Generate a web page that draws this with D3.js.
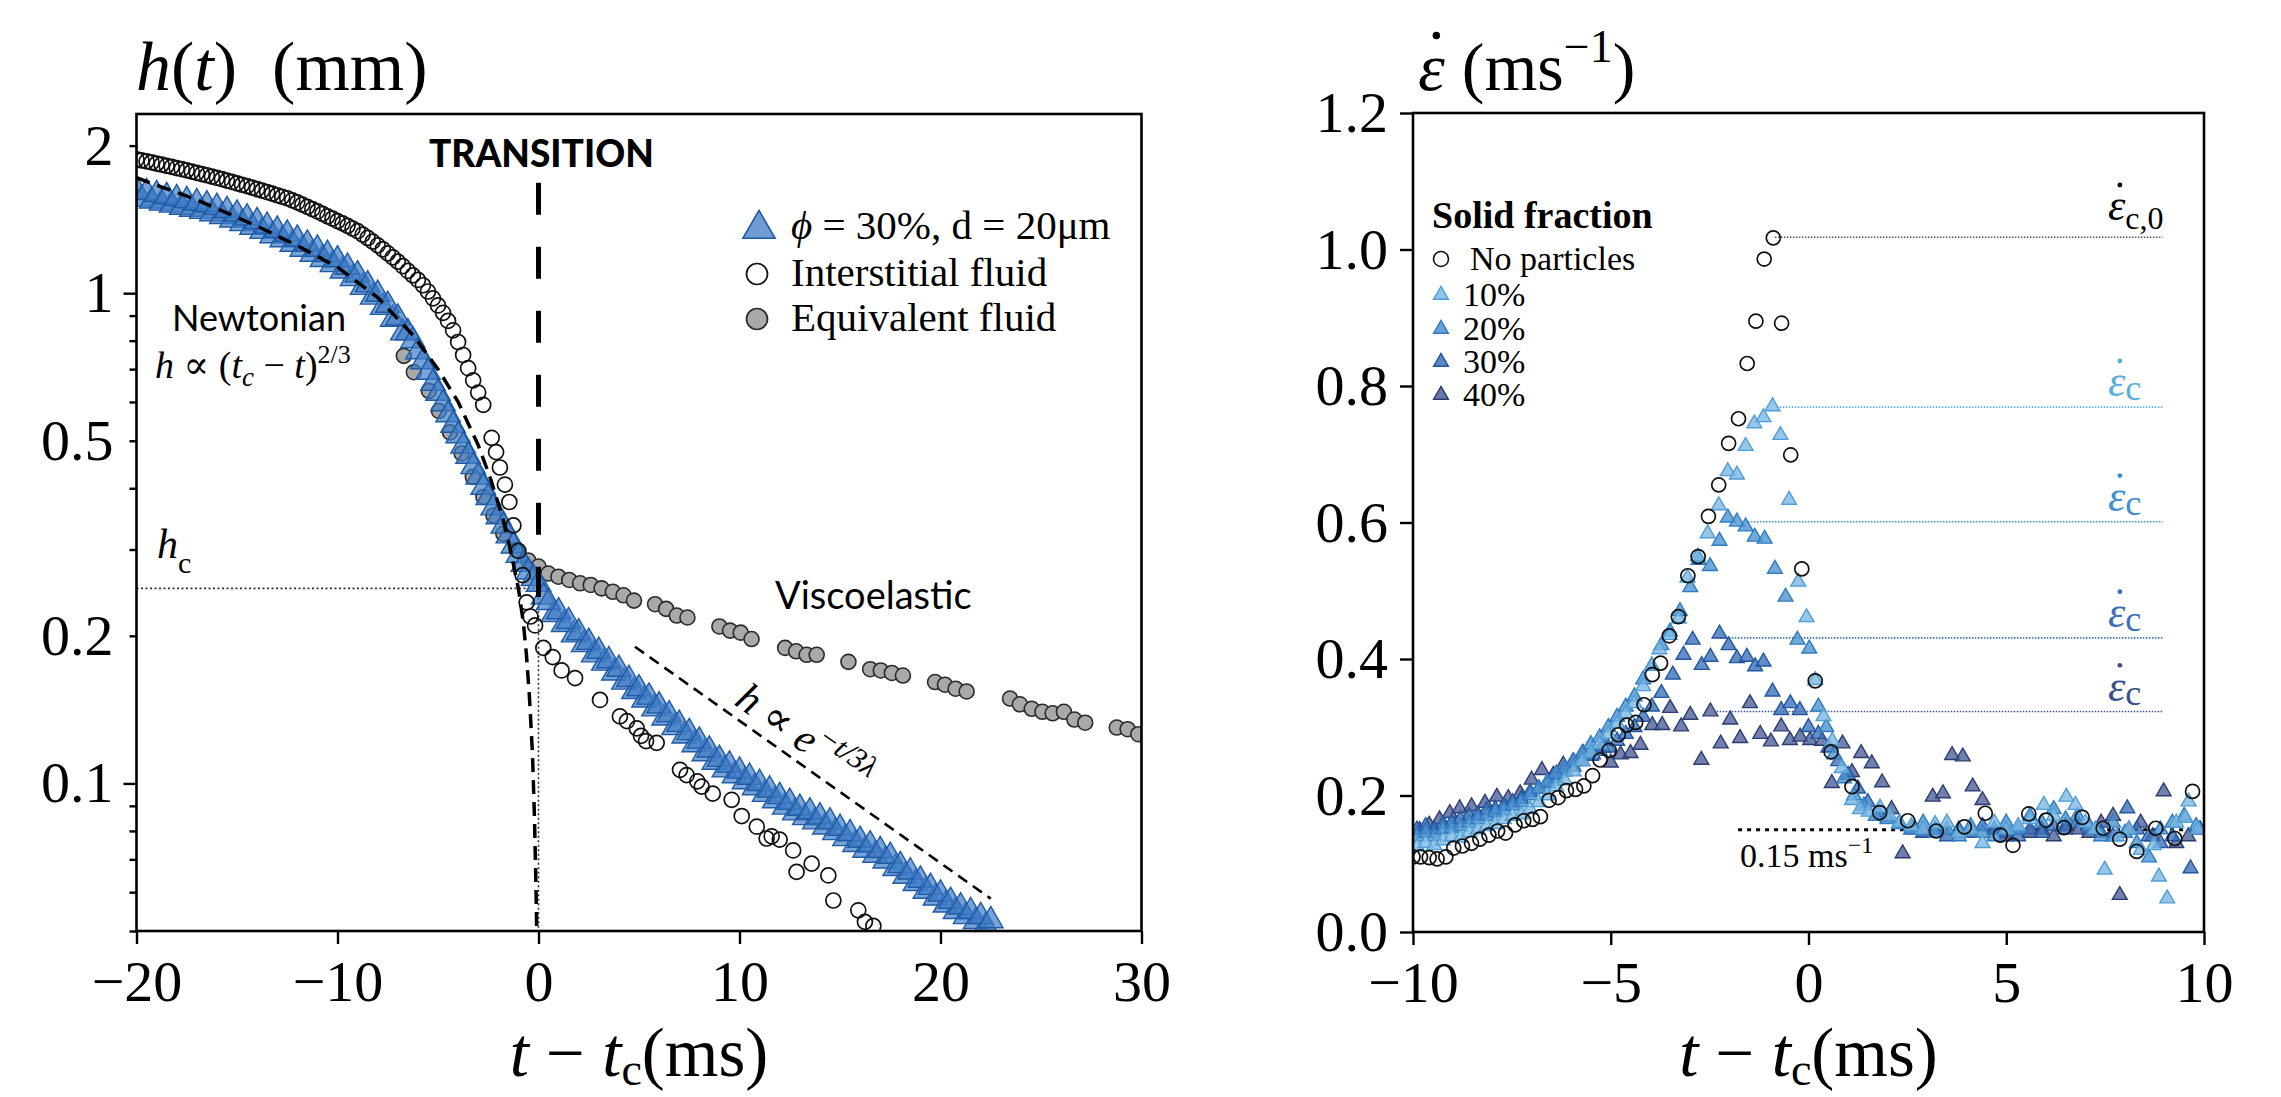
<!DOCTYPE html>
<html><head><meta charset="utf-8">
<script src="https://cdn.jsdelivr.net/npm/d3@7"></script>
<style>
body{margin:0;background:#fff;}
text{white-space:pre;}
</style></head><body>
<script>
// ---------------- DATA: left panel h(t) ----------------
const leftXTicks=[-20,-10,0,10,20,30];
const leftYLabels=[0.1,0.2,0.5,1,2];
const leftYMinor=[0.05,0.06,0.07,0.08,0.09,0.2,0.3,0.4,0.5,0.6,0.7,0.8,0.9,2];
const leftYMajor=[0.1,1];
const hc=0.25;
// phi = 30%, d = 20 um (triangles), run 1
const phi30=[[-20,1.62],[-19.5,1.605],[-19,1.59],[-18.5,1.575],[-18,1.56],[-17.5,1.545],[-17,1.53],[-16.5,1.515],[-16,1.497],[-15.5,1.475],[-15,1.45],[-14.5,1.425],[-14,1.40],[-13.5,1.37],[-13,1.345],[-12.5,1.32],[-12,1.29],[-11.5,1.26],[-11,1.23],[-10.5,1.20],[-10,1.17],[-9.5,1.13],[-9,1.09],[-8.5,1.04],[-8,0.995],[-7.5,0.945],[-7,0.89],[-6.5,0.83],[-6.25,0.80],[-6,0.76],[-5.75,0.725],[-5.5,0.69],[-5.25,0.655],[-5,0.625],[-4.75,0.595],[-4.5,0.565],[-4.25,0.538],[-4,0.512],[-3.75,0.488],[-3.5,0.465],[-3.25,0.443],[-3,0.422],[-2.75,0.402],[-2.5,0.383],[-2.25,0.365],[-2,0.35],[-1.75,0.335],[-1.5,0.32],[-1.25,0.305],[-1,0.292],[-0.75,0.28],[-0.5,0.27],[-0.25,0.262],[0,0.255],
[0.25,0.240],[0.5,0.234],[1,0.224],[1.5,0.214],[2,0.203],[2.5,0.194],[3,0.186],[3.5,0.178],[4,0.171],[4.5,0.163],[5,0.156],[5.5,0.150],[6,0.144],[6.5,0.138],[7,0.132],[7.5,0.127],[8,0.122],[8.5,0.117],[9,0.112],[9.5,0.109],[10,0.106],[10.5,0.103],[11,0.100],[11.5,0.097],[12,0.094],[12.5,0.0915],[13,0.089],[13.5,0.0875],[14,0.0855],[14.5,0.0835],[15,0.081],[15.5,0.079],[16,0.0766],[16.5,0.075],[17,0.073],[17.5,0.071],[18,0.068],[18.5,0.066],[19,0.0635],[19.5,0.0614],[20,0.0595],[20.5,0.0575],[21,0.056],[21.5,0.0548],[22,0.0535],[22.5,0.0525]];
// phi = 30%, run 2 (lower edge of the band)
const phi30Run2=[[-19.75,1.556],[-19.25,1.542],[-18.75,1.527],[-18.25,1.513],[-17.75,1.498],[-17.25,1.484],[-16.75,1.469],[-16.25,1.453],[-15.75,1.434],[-15.25,1.411],[-14.75,1.387],[-14.25,1.363],[-13.75,1.337],[-13.25,1.310],[-12.75,1.286],[-12.25,1.259],[-11.75,1.230],[-11.25,1.201],[-10.75,1.172],[-10.25,1.144],[-9.75,1.110],[-9.25,1.071],[-8.75,1.028],[-8.25,0.982],[-7.75,0.936],[-7.25,0.885],[-6.75,0.830],
[0.75,0.221],[1.25,0.211],[1.75,0.201],[2.25,0.192],[2.75,0.183],[3.25,0.176],[3.75,0.168],[4.25,0.161],[4.75,0.154],[5.25,0.148],[5.75,0.142],[6.25,0.136],[6.75,0.130],[7.25,0.125],[7.75,0.120],[8.25,0.115],[8.75,0.1105],[9.25,0.1066],[9.75,0.1037],[10.25,0.1008],[10.75,0.098],[11.25,0.095],[11.75,0.0922],[12.25,0.0895],[12.75,0.0871],[13.25,0.0852],[13.75,0.0835],[14.25,0.0815],[14.75,0.0794],[15.25,0.0772],[15.75,0.0751],[16.25,0.0731],[16.75,0.0714],[17.25,0.0695],[17.75,0.0671],[18.25,0.0647],[18.75,0.0625],[19.25,0.0603],[19.75,0.0584],[20.25,0.0565],[20.75,0.0548],[21.25,0.0535],[21.75,0.0523],[22.25,0.0511]];
// interstitial fluid (open circles)
const interstitial=[[-20,1.875],[-19.75,1.866],[-19.5,1.857],[-19.25,1.848],[-19,1.838],[-18.75,1.829],[-18.5,1.819],[-18.25,1.810],[-18,1.800],[-17.75,1.790],[-17.5,1.780],[-17.25,1.770],[-17,1.760],[-16.75,1.750],[-16.5,1.740],[-16.25,1.729],[-16,1.718],[-15.75,1.708],[-15.5,1.697],[-15.25,1.686],[-15,1.675],[-14.75,1.664],[-14.5,1.653],[-14.25,1.642],[-14,1.630],[-13.75,1.619],[-13.5,1.607],[-13.25,1.596],[-13,1.584],[-12.75,1.573],[-12.5,1.562],[-12.25,1.547],[-12,1.532],[-11.75,1.516],[-11.5,1.500],[-11.25,1.484],[-11,1.468],[-10.75,1.452],[-10.5,1.435],[-10.25,1.419],[-10,1.403],[-9.75,1.388],[-9.5,1.372],[-9.25,1.355],[-9,1.338],[-8.75,1.317],[-8.5,1.296],[-8.25,1.274],[-8,1.252],[-7.75,1.229],[-7.5,1.206],[-7.25,1.183],[-7,1.160],[-6.75,1.135],[-6.5,1.110],[-6.25,1.087],[-6,1.064],[-5.75,1.038],[-5.5,1.008],[-5.25,0.976],[-5,0.944],[-4.75,0.912],[-4.5,0.878],[-4.25,0.840],[-4,0.795],[-3.75,0.748],[-3.5,0.703],[-3.25,0.664],[-3,0.627],[-2.75,0.592],
[-2.33,0.507],[-2.11,0.474],[-1.92,0.441],[-1.67,0.407],[-1.45,0.375],[-1.25,0.336],[-1.0,0.298],[-0.79,0.266],[-0.59,0.234],[-0.4,0.219],[-0.17,0.21],[0.24,0.189],[0.71,0.181],[1.15,0.170],[1.82,0.164],[3.06,0.148],[4.05,0.137],[4.4,0.134],[4.89,0.1295],[5.1,0.125],[5.35,0.122],[5.88,0.121],[7.04,0.1066],[7.37,0.104],[7.9,0.101],[8.12,0.0985],[8.67,0.0953],[9.61,0.0926],[10.11,0.0858],[10.86,0.0816],[11.35,0.0772],[11.6,0.078],[12.0,0.0768],[12.67,0.073],[12.84,0.066],[13.59,0.0686],[14.42,0.0649],[14.67,0.0577],[15.91,0.0551],[16.24,0.0522],[16.66,0.0512]];
// equivalent fluid (grey circles)
const equivalent=[[-6.7,0.745],[-6.2,0.69],[-5.45,0.632],[-4.95,0.575],[-4.4,0.52],[-3.82,0.471],[-3.27,0.422],[-2.74,0.384],[-2.24,0.352],[-1.75,0.323],[-1.1,0.299],[-0.51,0.285],[0,0.277],[0.49,0.268],[0.99,0.264],[1.53,0.260],[2.07,0.256],[2.6,0.254],[3.14,0.250],[3.7,0.246],[4.23,0.242],[4.75,0.236],[5.8,0.232],[6.35,0.227],[6.88,0.220],[7.41,0.218],[9.0,0.209],[9.53,0.205],[10.06,0.203],[10.6,0.197],[12.27,0.189],[12.82,0.186],[13.34,0.183],[13.84,0.183],[15.42,0.177],[16.5,0.171],[17.03,0.170],[17.58,0.168],[18.13,0.166],[19.73,0.161],[20.22,0.159],[20.75,0.156],[21.3,0.154],[23.46,0.149],[23.95,0.145],[24.54,0.142],[25.07,0.140],[25.58,0.139],[26.14,0.140],[26.66,0.135],[27.2,0.133],[28.77,0.130],[29.31,0.129],[29.84,0.126]];
// Newtonian fit h ~ (tc-t)^(2/3)
const newtonFit=[[-20,1.72],[-17,1.55],[-14,1.37],[-12,1.25],[-10,1.13],[-8,0.98],[-6.23,0.82],[-5,0.70],[-4,0.60],[-3,0.49],[-2.4,0.42],[-1.8,0.35],[-1.4,0.30],[-1.0,0.25],[-0.75,0.212],[-0.6,0.183],[-0.45,0.15],[-0.3,0.115],[-0.2,0.085],[-0.12,0.06],[-0.09,0.05]];
// viscoelastic exponential fit
const expFit=[[4.8,0.19],[22.5,0.0582]];
const transitionLine=[[0,1.68],[0,0.24]];

// ---------------- DATA: right panel strain rate ----------------
const rightXTicks=[-10,-5,0,5,10];
const rightYTicks=[0,0.2,0.4,0.6,0.8,1.0,1.2];
const noParticles=[[-10.0,0.110],[-9.81,0.110],[-9.59,0.109],[-9.39,0.107],[-9.17,0.110],[-8.97,0.123],[-8.75,0.126],[-8.52,0.130],[-8.31,0.136],[-8.08,0.142],[-7.86,0.148],[-7.66,0.145],[-7.42,0.157],[-7.2,0.163],[-6.98,0.165],[-6.78,0.169],[-6.56,0.193],[-6.33,0.197],[-6.12,0.207],[-5.89,0.209],[-5.68,0.214],[-5.46,0.229],[-5.27,0.252],[-5.04,0.266],[-4.81,0.289],[-4.6,0.303],[-4.37,0.307],[-4.16,0.333],[-3.95,0.377],[-3.74,0.394],[-3.52,0.434],[-3.29,0.462],[-3.05,0.522],[-2.79,0.550],[-2.53,0.609],[-2.27,0.655],[-2.02,0.716],[-1.77,0.752],[-1.55,0.833],[-1.33,0.895],[-1.12,0.986],[-0.89,1.017],[-0.68,0.892],[-0.45,0.699],[-0.17,0.532],[0.17,0.368],[0.57,0.264],[1.10,0.213],[1.80,0.175],[2.51,0.163],[3.23,0.148],[3.94,0.154],[4.47,0.174],[4.85,0.142],[5.17,0.127],[5.57,0.173],[6.01,0.164],[6.46,0.153],[6.92,0.168],[7.45,0.152],[7.87,0.136],[8.30,0.118],[8.78,0.152],[9.26,0.137],[9.71,0.206]];
const frac10=[[-9.9,0.125],[-9.68,0.13],[-9.46,0.127],[-9.24,0.134],[-9.02,0.14],[-8.8,0.138],[-8.58,0.146],[-8.36,0.15],[-8.14,0.155],[-7.92,0.158],[-7.7,0.165],[-7.48,0.17],[-7.26,0.172],[-7.04,0.18],[-6.82,0.19],[-6.6,0.2],[-6.38,0.213],[-6.16,0.222],[-5.94,0.235],[-5.72,0.25],[-5.5,0.262],[-5.28,0.275],[-5.06,0.29],[-4.84,0.305],[-4.62,0.32],[-4.4,0.335],[-4.18,0.36],[-3.96,0.39],[-3.77,0.414],[-3.51,0.435],[-3.28,0.459],[-3.06,0.519],[-2.8,0.55],[-2.55,0.584],[-2.27,0.625],[-2.04,0.675],[-1.81,0.67],[-1.59,0.712],[-1.37,0.745],[-1.14,0.754],[-0.91,0.77],[-0.71,0.728],[-0.49,0.633],[-0.26,0.513],[-0.05,0.461],[0.17,0.369],[0.38,0.316],[0.6,0.28],[0.84,0.24],[1.1,0.193],[1.3,0.18],[1.52,0.176],[1.81,0.182],[2.05,0.17],[2.3,0.16],[2.6,0.155],[2.9,0.15],[3.2,0.158],[3.5,0.16],[3.8,0.145],[4.1,0.15],[4.4,0.13],[4.7,0.16],[5.0,0.15],[5.3,0.155],[5.6,0.165],[5.95,0.186],[6.2,0.17],[6.52,0.198],[6.75,0.186],[7.0,0.16],[7.25,0.15],[7.49,0.091],[7.8,0.14],[8.1,0.15],[8.4,0.12],[8.73,0.127],[8.86,0.081],[9.07,0.049],[9.3,0.16],[9.53,0.167],[9.61,0.191],[9.85,0.15]];
const frac20=[[-9.9,0.14],[-9.68,0.145],[-9.46,0.14],[-9.24,0.15],[-9.02,0.152],[-8.8,0.155],[-8.58,0.16],[-8.36,0.165],[-8.14,0.17],[-7.92,0.175],[-7.7,0.178],[-7.48,0.185],[-7.26,0.19],[-7.04,0.2],[-6.82,0.21],[-6.6,0.22],[-6.38,0.232],[-6.16,0.24],[-5.94,0.25],[-5.72,0.262],[-5.5,0.275],[-5.28,0.285],[-5.06,0.3],[-4.84,0.315],[-4.62,0.33],[-4.4,0.345],[-4.18,0.37],[-3.96,0.39],[-3.72,0.42],[-3.5,0.44],[-3.25,0.47],[-2.99,0.505],[-2.78,0.545],[-2.49,0.536],[-2.25,0.573],[-2.04,0.607],[-1.81,0.601],[-1.59,0.594],[-1.36,0.579],[-1.11,0.576],[-0.85,0.532],[-0.58,0.491],[-0.28,0.428],[0.02,0.415],[0.25,0.33],[0.45,0.3],[0.65,0.26],[0.9,0.225],[1.15,0.2],[1.4,0.185],[1.7,0.17],[2.0,0.165],[2.3,0.158],[2.6,0.15],[2.9,0.16],[3.2,0.145],[3.5,0.15],[3.8,0.14],[4.1,0.155],[4.4,0.145],[4.7,0.14],[5.0,0.16],[5.3,0.15],[5.6,0.17],[5.9,0.16],[6.2,0.18],[6.5,0.165],[6.8,0.17],[7.1,0.155],[7.4,0.14],[7.7,0.16],[8.0,0.145],[8.3,0.13],[8.61,0.109],[8.9,0.15],[9.2,0.16],[9.5,0.17],[9.8,0.155]];
const frac30=[[-9.9,0.15],[-9.68,0.155],[-9.46,0.15],[-9.24,0.158],[-9.02,0.16],[-8.8,0.165],[-8.58,0.17],[-8.36,0.172],[-8.14,0.178],[-7.92,0.18],[-7.7,0.185],[-7.48,0.19],[-7.26,0.195],[-7.04,0.205],[-6.82,0.21],[-6.6,0.218],[-6.38,0.225],[-6.16,0.235],[-5.94,0.242],[-5.72,0.25],[-5.5,0.258],[-5.28,0.265],[-5.06,0.27],[-4.84,0.28],[-4.62,0.29],[-4.4,0.3],[-4.18,0.315],[-3.96,0.33],[-3.72,0.35],[-3.43,0.377],[-3.16,0.406],[-2.93,0.428],[-2.7,0.391],[-2.48,0.403],[-2.25,0.437],[-2.02,0.42],[-1.81,0.401],[-1.56,0.403],[-1.35,0.389],[-1.14,0.396],[-0.91,0.352],[-0.69,0.325],[-0.46,0.335],[-0.22,0.325],[0.0,0.3],[0.25,0.29],[0.5,0.27],[0.75,0.25],[1.0,0.23],[1.25,0.21],[1.5,0.19],[1.75,0.175],[2.0,0.168],[2.3,0.16],[2.6,0.15],[2.9,0.145],[3.2,0.15],[3.5,0.14],[3.8,0.15],[4.1,0.145],[4.4,0.155],[4.7,0.15],[5.0,0.145],[5.3,0.14],[5.6,0.15],[5.9,0.145],[6.2,0.155],[6.5,0.15],[6.8,0.16],[7.1,0.15],[7.4,0.145],[7.7,0.14],[8.06,0.181],[8.3,0.15],[8.6,0.14],[8.9,0.13],[9.2,0.14],[9.66,0.093],[9.9,0.15]];
const frac40=[[-9.83,0.149],[-9.59,0.157],[-9.33,0.165],[-9.07,0.174],[-8.82,0.181],[-8.52,0.184],[-8.18,0.189],[-7.88,0.198],[-7.59,0.196],[-7.29,0.203],[-7.0,0.223],[-6.74,0.237],[-6.45,0.23],[-6.2,0.245],[-5.95,0.25],[-5.7,0.262],[-5.45,0.26],[-5.2,0.27],[-5.0,0.248],[-4.75,0.26],[-4.5,0.262],[-4.25,0.274],[-3.95,0.303],[-3.7,0.303],[-3.5,0.328],[-3.22,0.301],[-2.99,0.318],[-2.71,0.252],[-2.48,0.323],[-2.22,0.276],[-1.98,0.311],[-1.73,0.284],[-1.48,0.335],[-1.22,0.29],[-0.95,0.279],[-0.69,0.301],[-0.47,0.281],[-0.21,0.286],[0.04,0.281],[0.34,0.28],[0.59,0.218],[0.86,0.276],[1.1,0.234],[1.33,0.262],[1.6,0.247],[1.86,0.219],[2.1,0.18],[2.38,0.115],[2.7,0.15],[2.9,0.145],[3.14,0.198],[3.4,0.203],[3.63,0.259],[3.9,0.257],[4.15,0.213],[4.4,0.193],[4.7,0.15],[5.0,0.14],[5.3,0.15],[5.6,0.145],[5.9,0.15],[6.2,0.14],[6.5,0.155],[6.8,0.15],[7.1,0.145],[7.4,0.16],[7.7,0.17],[7.87,0.054],[8.1,0.15],[8.4,0.16],[8.7,0.14],[8.98,0.206],[9.3,0.13],[9.6,0.14],[9.9,0.15]];
const epsC0=1.018, epsC0Start=-0.85;
const epsCValues=[0.769,0.601,0.431,0.323];
const epsCStart=[-0.8,-1.53,-2.24,-2.32];
const epsLineEnd=8.95;
const plateau=0.15, plateauStart=-1.78;
const fracLabels=["10%","20%","30%","40%"];

// ---------------- STYLES ----------------
const SERIF="'Liberation Serif','DejaVu Serif',serif";
const SANS="Lato,'Open Sans',sans-serif";
const fracFill=["#7db8e2","#4d93d0","#3c72ba","#4f6099"];
const fracStroke=["#4e9fd6","#2f7cc2","#22569f","#2c3c72"];
const epsColors=["#5aaee0","#3d8fd0","#3a6fb8","#3b4f8c"];

const W=2281,H=1097;
const svg=d3.select("body").append("svg").attr("width",W).attr("height",H).attr("font-family",SERIF);
svg.append("rect").attr("width",W).attr("height",H).attr("fill","#fff");
const defs=svg.append("defs");

// ============ LEFT PANEL ============
const L={x0:136.5,x1:1141.5,y0:114,y1:931};
const xL=d3.scaleLinear().domain([-20,30]).range([L.x0,L.x1]);
const yL=d3.scaleLog().domain([0.05,2.32]).range([L.y1,L.y0]);
defs.append("clipPath").attr("id","clipL").append("rect").attr("x",L.x0).attr("y",L.y0).attr("width",L.x1-L.x0).attr("height",L.y1-L.y0);
const gL=svg.append("g").attr("clip-path","url(#clipL)");
const lineL=d3.line().x(d=>xL(d[0])).y(d=>yL(d[1]));

gL.append("path").attr("d",lineL([[-20,hc],[0,hc]])).attr("stroke","#333").attr("stroke-width",1.6).attr("stroke-dasharray","2,2.5").attr("fill","none");
gL.append("path").attr("d",lineL([[0,hc],[0,0.05]])).attr("stroke","#333").attr("stroke-width",1.6).attr("stroke-dasharray","2,2.5").attr("fill","none");

gL.selectAll("circle.eq").data(equivalent).enter().append("circle").attr("class","eq")
  .attr("cx",d=>xL(d[0])).attr("cy",d=>yL(d[1])).attr("r",7.5)
  .attr("fill","#a9a9a9").attr("stroke","#2a2a2a").attr("stroke-width",1.6);
const triL=d3.symbol().type(d3.symbolTriangle).size(260);
[phi30Run2,phi30].forEach((ser,k)=>{
  gL.selectAll("path.tri"+k).data(ser).enter().append("path").attr("class","tri"+k)
    .attr("d",triL).attr("transform",d=>`translate(${xL(d[0])},${yL(d[1])})`)
    .attr("fill","#3f7cc4").attr("fill-opacity",0.7).attr("stroke","#1f5aa6").attr("stroke-width",1.4);
});
gL.selectAll("circle.int").data(interstitial).enter().append("circle").attr("class","int")
  .attr("cx",d=>xL(d[0])).attr("cy",d=>yL(d[1])).attr("r",7.5)
  .attr("fill","none").attr("stroke","#111").attr("stroke-width",1.7);
gL.append("path").attr("d",lineL(newtonFit)).attr("stroke","#000").attr("stroke-width",3.5).attr("stroke-dasharray","14,8").attr("fill","none");
gL.append("path").attr("d",lineL(expFit)).attr("stroke","#000").attr("stroke-width",2.6).attr("stroke-dasharray","11,7").attr("fill","none");
gL.append("path").attr("d",lineL(transitionLine)).attr("stroke","#000").attr("stroke-width",5).attr("stroke-dasharray","32,32").attr("fill","none");

function styleAxis(g,fs){
  g.select(".domain").remove();
  g.selectAll("line").attr("stroke","#000").attr("stroke-width",2.4);
  g.selectAll("text").attr("font-size",fs).attr("fill","#000").attr("font-family",SERIF);
}
let g;
g=svg.append("g").attr("transform",`translate(0,${L.y1})`).call(d3.axisBottom(xL).tickValues(leftXTicks).tickSize(13).tickPadding(16).tickFormat(d3.format("d")));
styleAxis(g,58);
g=svg.append("g").attr("transform",`translate(${L.x0},0)`).call(d3.axisLeft(yL).tickValues(leftYMinor).tickSize(7).tickFormat(""));
styleAxis(g,58);
g=svg.append("g").attr("transform",`translate(${L.x0},0)`).call(d3.axisLeft(yL).tickValues(leftYMajor).tickSize(13).tickFormat(""));
styleAxis(g,58);
g=svg.append("g").attr("transform",`translate(${L.x0},0)`).call(d3.axisLeft(yL).tickValues(leftYLabels).tickSize(0).tickPadding(23).tickFormat(d=>String(d)));
styleAxis(g,58);
svg.append("rect").attr("x",L.x0).attr("y",L.y0).attr("width",L.x1-L.x0).attr("height",L.y1-L.y0).attr("fill","none").attr("stroke","#000").attr("stroke-width",2.6);

// left texts
let t=svg.append("text").attr("x",136).attr("y",90).attr("font-size",70);
t.append("tspan").attr("font-style","italic").text("h");
t.append("tspan").text("(");
t.append("tspan").attr("font-style","italic").text("t");
t.append("tspan").text(")  (mm)");

function xLabel(cx){
  const tt=svg.append("text").attr("x",cx).attr("y",1076).attr("font-size",69).attr("text-anchor","middle");
  tt.append("tspan").attr("font-style","italic").text("t");
  tt.append("tspan").text(" \u2212 ");
  tt.append("tspan").attr("font-style","italic").text("t");
  tt.append("tspan").attr("font-size",46).attr("dy",9).text("c");
  tt.append("tspan").attr("dy",-9).text("(ms)");
}
xLabel((L.x0+L.x1)/2);

svg.append("text").attr("x",429).attr("y",167).attr("font-size",37).attr("font-weight",900)
  .attr("font-family",SANS).text("TRANSITION");
svg.append("text").attr("x",172).attr("y",331).attr("font-size",36)
  .attr("font-family",SANS).text("Newtonian");
t=svg.append("text").attr("x",155).attr("y",378).attr("font-size",38);
t.append("tspan").attr("font-style","italic").text("h");
t.append("tspan").text(" \u221D (");
t.append("tspan").attr("font-style","italic").text("t");
t.append("tspan").attr("font-style","italic").attr("font-size",27).attr("dy",8).text("c");
t.append("tspan").attr("dy",-8).text(" \u2212 ");
t.append("tspan").attr("font-style","italic").text("t");
t.append("tspan").text(")");
t.append("tspan").attr("font-size",26).attr("dy",-15).text("2/3");
svg.append("text").attr("x",775).attr("y",609).attr("font-size",38)
  .attr("font-family",SANS).text("Viscoelastic");
t=svg.append("text").attr("x",157).attr("y",558).attr("font-size",42);
t.append("tspan").attr("font-style","italic").text("h");
t.append("tspan").attr("font-size",30).attr("dy",15).text("c");
t=svg.append("text").attr("transform","translate(733,704) rotate(35)").attr("font-size",42);
t.append("tspan").attr("font-style","italic").text("h");
t.append("tspan").text(" \u221D ");
t.append("tspan").attr("font-style","italic").text("e");
t.append("tspan").attr("font-style","italic").attr("font-size",30).attr("dy",-17).text("\u2212t/3\u03BB");

// left legend
svg.append("path").attr("d",d3.symbol().type(d3.symbolTriangle).size(450)()).attr("transform","translate(759,229)")
  .attr("fill","#3f7cc4").attr("fill-opacity",0.75).attr("stroke","#1f5aa6").attr("stroke-width",1.6);
t=svg.append("text").attr("x",791).attr("y",239).attr("font-size",41);
t.append("tspan").attr("font-style","italic").text("\u03D5");
t.append("tspan").text(" = 30%, d = 20\u03BCm");
svg.append("circle").attr("cx",757).attr("cy",274).attr("r",10.5).attr("fill","none").attr("stroke","#111").attr("stroke-width",1.7);
svg.append("text").attr("x",791).attr("y",286).attr("font-size",41).text("Interstitial fluid");
svg.append("circle").attr("cx",757).attr("cy",319).attr("r",10.5).attr("fill","#a9a9a9").attr("stroke","#2a2a2a").attr("stroke-width",1.7);
svg.append("text").attr("x",791).attr("y",331).attr("font-size",41).text("Equivalent fluid");

// ============ RIGHT PANEL ============
const R={x0:1413,x1:2204,y0:113,y1:932};
const xR=d3.scaleLinear().domain([-10,10]).range([R.x0,R.x1]);
const yR=d3.scaleLinear().domain([0,1.2]).range([R.y1,R.y0]);
defs.append("clipPath").attr("id","clipR").append("rect").attr("x",R.x0).attr("y",R.y0).attr("width",R.x1-R.x0).attr("height",R.y1-R.y0);
const gR=svg.append("g").attr("clip-path","url(#clipR)");
const lineR=d3.line().x(d=>xR(d[0])).y(d=>yR(d[1]));

gR.append("path").attr("d",lineR([[epsC0Start,epsC0],[epsLineEnd,epsC0]])).attr("stroke","#555").attr("stroke-width",1.6).attr("stroke-dasharray","1.5,1.5").attr("fill","none");
epsCValues.forEach((v,i)=>{
  gR.append("path").attr("d",lineR([[epsCStart[i],v],[epsLineEnd,v]])).attr("stroke",epsColors[i]).attr("stroke-width",1.6).attr("stroke-dasharray","1.5,1.5").attr("fill","none");
});
gR.append("path").attr("d",lineR([[plateauStart,plateau],[10,plateau]])).attr("stroke","#000").attr("stroke-width",3).attr("stroke-dasharray","4,5").attr("fill","none");

const triR=d3.symbol().type(d3.symbolTriangle).size(95);
const fracs=[frac10,frac20,frac30,frac40];
[3,2,1,0].forEach(i=>{
  gR.selectAll("path.f"+i).data(fracs[i]).enter().append("path").attr("class","f"+i)
    .attr("d",triR).attr("transform",d=>`translate(${xR(d[0])},${yR(d[1])})`)
    .attr("fill",fracFill[i]).attr("fill-opacity",0.8).attr("stroke",fracStroke[i]).attr("stroke-width",1.4);
});
gR.selectAll("circle.np").data(noParticles).enter().append("circle").attr("class","np")
  .attr("cx",d=>xR(d[0])).attr("cy",d=>yR(d[1])).attr("r",7)
  .attr("fill","none").attr("stroke","#111").attr("stroke-width",1.7);

g=svg.append("g").attr("transform",`translate(0,${R.y1})`).call(d3.axisBottom(xR).tickValues(rightXTicks).tickSize(13).tickPadding(16).tickFormat(d3.format("d")));
styleAxis(g,58);
g=svg.append("g").attr("transform",`translate(${R.x0},0)`).call(d3.axisLeft(yR).tickValues(rightYTicks).tickSize(13).tickPadding(12).tickFormat(d3.format(".1f")));
styleAxis(g,58);
svg.append("rect").attr("x",R.x0).attr("y",R.y0).attr("width",R.x1-R.x0).attr("height",R.y1-R.y0).attr("fill","none").attr("stroke","#000").attr("stroke-width",2.6);

function epsDot(x,y,fs,color,sub,subFs,subDy){
  const tt=svg.append("text").attr("x",x).attr("y",y).attr("font-size",fs).attr("fill",color);
  tt.append("tspan").attr("font-style","italic").text("\u03B5");
  if(sub){tt.append("tspan").attr("font-size",subFs).attr("dy",subDy).text(sub);}
  svg.append("circle").attr("cx",x+fs*0.27).attr("cy",y-fs*0.8).attr("r",fs*0.055).attr("fill",color);
  return tt;
}
t=epsDot(1418,90,68,"#000",null);
t.append("tspan").text(" (ms");
t.append("tspan").attr("font-size",46).attr("dy",-28).text("\u22121");
t.append("tspan").attr("dy",28).text(")");
xLabel((R.x0+R.x1)/2);

epsDot(2108,yR(epsC0)-17,44,"#000","c,0",32,9);
epsCValues.forEach((v,i)=>{ epsDot(2108,yR(v)-11,44,epsColors[i],"c",36,4); });
t=svg.append("text").attr("x",1740).attr("y",867).attr("font-size",34);
t.append("tspan").text("0.15 ms");
t.append("tspan").attr("font-size",24).attr("dy",-14).text("\u22121");

svg.append("text").attr("x",1432).attr("y",228).attr("font-size",38).attr("font-weight","bold").text("Solid fraction");
svg.append("circle").attr("cx",1441).attr("cy",259).attr("r",7.5).attr("fill","none").attr("stroke","#111").attr("stroke-width",1.6);
svg.append("text").attr("x",1470).attr("y",270).attr("font-size",34).text("No particles");
const legY=[295,329,362,395];
fracLabels.forEach((lab,i)=>{
  svg.append("path").attr("d",triR()).attr("transform",`translate(1441,${legY[i]})`)
    .attr("fill",fracFill[i]).attr("fill-opacity",0.85).attr("stroke",fracStroke[i]).attr("stroke-width",1.4);
  svg.append("text").attr("x",1463).attr("y",legY[i]+11).attr("font-size",34).text(lab);
});
</script>
</body></html>
